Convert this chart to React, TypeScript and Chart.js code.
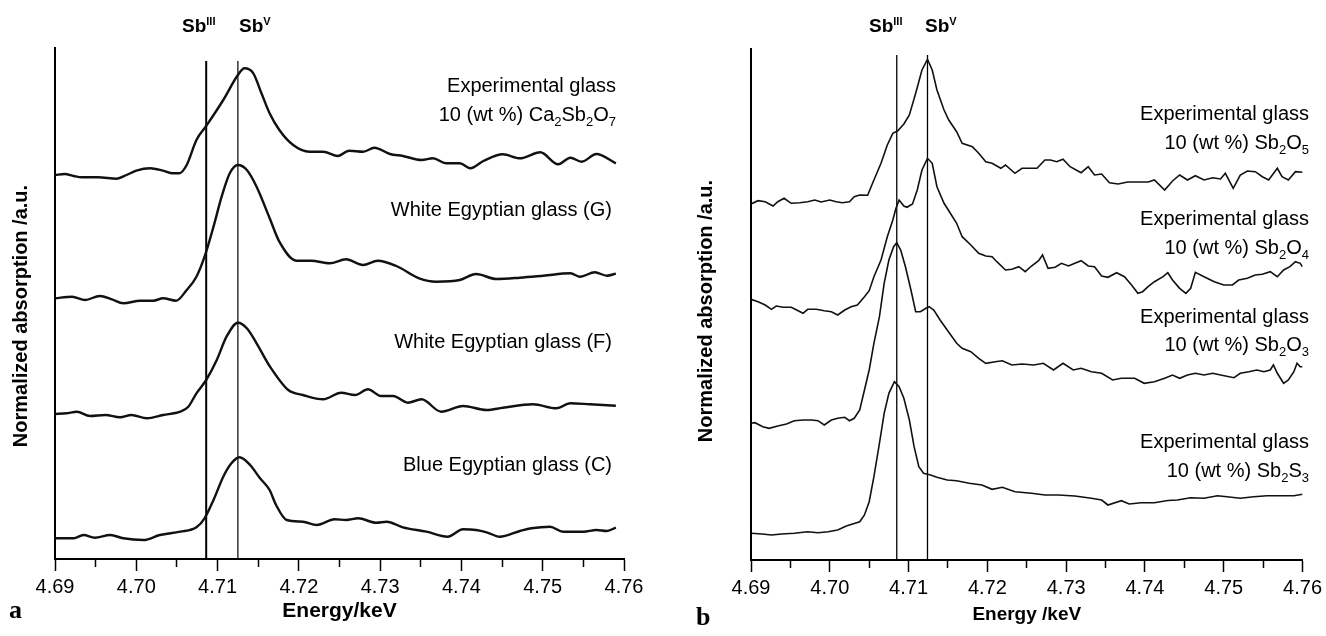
import React, { useEffect, useRef } from "react";
import { Chart, registerables } from "chart.js";
Chart.register(...registerables);

// ---------- axis / tick data ----------
const X_MIN = 4.69;
const X_MAX = 4.76;
const X_TICKS = [4.69, 4.695, 4.7, 4.705, 4.71, 4.715, 4.72, 4.725, 4.73, 4.735, 4.74, 4.745, 4.75, 4.755, 4.76];
const Y_MAX = 5.11;

// reference lines (Sb III / Sb V edge positions, keV)
const SB3_A = 4.7086;
const SB5_A = 4.7125;
const SB3_B = 4.7085;
const SB5_B = 4.7124;
const REF_TOP_A = 4.98;
const REF_TOP_B = 5.05;

// ---------- panel a series ----------
const eA1 = [4.6900, 4.6912, 4.6923, 4.6933, 4.6953, 4.6976, 4.6988, 4.7000, 4.7017, 4.7033, 4.7045, 4.7053, 4.7062, 4.7074, 4.7086, 4.7107, 4.7125, 4.7133, 4.7144, 4.7154, 4.7164, 4.7176, 4.7193, 4.7213, 4.7230, 4.7248, 4.7262, 4.7279, 4.7293, 4.7312, 4.7328, 4.7351, 4.7365, 4.7381, 4.7398, 4.7411, 4.7427, 4.7451, 4.7472, 4.7497, 4.7519, 4.7534, 4.7548, 4.7566, 4.7590];
const yA1 = [3.84, 3.85, 3.83, 3.817, 3.817, 3.803, 3.84, 3.883, 3.907, 3.883, 3.857, 3.857, 3.94, 4.19, 4.33, 4.59, 4.84, 4.907, 4.857, 4.657, 4.457, 4.29, 4.14, 4.073, 4.073, 4.03, 4.083, 4.073, 4.113, 4.05, 4.03, 3.99, 4.007, 3.957, 3.957, 3.907, 3.98, 4.047, 4.007, 4.067, 3.947, 4.013, 3.973, 4.05, 3.957];

const eA2 = [4.6900, 4.6921, 4.6937, 4.6955, 4.6970, 4.6984, 4.7005, 4.7021, 4.7033, 4.7049, 4.7062, 4.7074, 4.7084, 4.7095, 4.7105, 4.7115, 4.7125, 4.7136, 4.7148, 4.7164, 4.7176, 4.7197, 4.7215, 4.7238, 4.7258, 4.7279, 4.7297, 4.7320, 4.7348, 4.7369, 4.7398, 4.7418, 4.7443, 4.7472, 4.7501, 4.7534, 4.7546, 4.7564, 4.7579, 4.7590];
const yA2 = [2.607, 2.623, 2.59, 2.63, 2.597, 2.557, 2.583, 2.583, 2.607, 2.583, 2.69, 2.823, 3.023, 3.323, 3.623, 3.857, 3.94, 3.89, 3.723, 3.41, 3.173, 2.983, 2.983, 2.957, 2.997, 2.94, 2.983, 2.93, 2.807, 2.773, 2.79, 2.85, 2.8, 2.813, 2.833, 2.857, 2.823, 2.867, 2.833, 2.853];

const eA3 = [4.6900, 4.6914, 4.6927, 4.6943, 4.6962, 4.6980, 4.6994, 4.7013, 4.7033, 4.7054, 4.7064, 4.7074, 4.7086, 4.7099, 4.7111, 4.7125, 4.7136, 4.7148, 4.7164, 4.7187, 4.7205, 4.7230, 4.7252, 4.7269, 4.7285, 4.7301, 4.7316, 4.7334, 4.7351, 4.7375, 4.7402, 4.7431, 4.7451, 4.7488, 4.7517, 4.7534, 4.7558, 4.7590];
const yA3 = [1.45, 1.457, 1.473, 1.43, 1.44, 1.417, 1.44, 1.407, 1.44, 1.473, 1.523, 1.657, 1.79, 1.99, 2.223, 2.363, 2.307, 2.157, 1.93, 1.69, 1.64, 1.597, 1.663, 1.64, 1.697, 1.63, 1.63, 1.563, 1.597, 1.473, 1.53, 1.49, 1.513, 1.547, 1.507, 1.557, 1.547, 1.533];

const eA4 = [4.6900, 4.6923, 4.6935, 4.6949, 4.6968, 4.6984, 4.7009, 4.7029, 4.7054, 4.7074, 4.7084, 4.7095, 4.7107, 4.7117, 4.7127, 4.7140, 4.7152, 4.7164, 4.7172, 4.7185, 4.7205, 4.7222, 4.7244, 4.7258, 4.7273, 4.7295, 4.7308, 4.7328, 4.7357, 4.7383, 4.7402, 4.7418, 4.7431, 4.7447, 4.7472, 4.7486, 4.7509, 4.7525, 4.7550, 4.7566, 4.7579, 4.7590];
const yA4 = [0.207, 0.207, 0.24, 0.213, 0.24, 0.207, 0.19, 0.24, 0.273, 0.317, 0.407, 0.59, 0.823, 0.957, 1.017, 0.94, 0.81, 0.69, 0.54, 0.39, 0.373, 0.34, 0.397, 0.39, 0.407, 0.363, 0.373, 0.317, 0.273, 0.223, 0.297, 0.29, 0.267, 0.223, 0.28, 0.307, 0.323, 0.273, 0.273, 0.29, 0.28, 0.313];

// ---------- panel b series ----------
const eB1 = [4.6900, 4.6909, 4.6918, 4.6928, 4.6934, 4.6942, 4.6951, 4.6962, 4.6972, 4.6981, 4.6989, 4.7000, 4.7008, 4.7016, 4.7025, 4.7031, 4.7038, 4.7048, 4.7056, 4.7065, 4.7073, 4.7080, 4.7086, 4.7094, 4.7101, 4.7109, 4.7117, 4.7124, 4.7130, 4.7136, 4.7145, 4.7151, 4.7161, 4.7168, 4.7181, 4.7189, 4.7198, 4.7206, 4.7217, 4.7223, 4.7235, 4.7244, 4.7263, 4.7273, 4.7280, 4.7288, 4.7296, 4.7305, 4.7319, 4.7328, 4.7336, 4.7345, 4.7355, 4.7366, 4.7378, 4.7391, 4.7404, 4.7412, 4.7425, 4.7435, 4.7444, 4.7454, 4.7464, 4.7475, 4.7486, 4.7496, 4.7502, 4.7512, 4.7521, 4.7530, 4.7540, 4.7549, 4.7557, 4.7568, 4.7574, 4.7582, 4.7591, 4.7600];
const yB1 = [3.56, 3.593, 3.583, 3.54, 3.583, 3.617, 3.567, 3.573, 3.583, 3.6, 3.58, 3.6, 3.583, 3.573, 3.583, 3.633, 3.65, 3.647, 3.8, 3.967, 4.15, 4.267, 4.29, 4.36, 4.45, 4.667, 4.9, 5.007, 4.9, 4.7, 4.5, 4.4, 4.283, 4.167, 4.133, 4.067, 3.983, 3.967, 3.917, 3.95, 3.867, 3.917, 3.917, 4.0, 4.0, 3.983, 4.007, 3.933, 3.873, 3.933, 3.85, 3.86, 3.773, 3.76, 3.78, 3.78, 3.78, 3.8, 3.7, 3.79, 3.85, 3.8, 3.843, 3.8, 3.823, 3.81, 3.867, 3.717, 3.85, 3.89, 3.883, 3.833, 3.8, 3.917, 3.833, 3.8, 3.883, 3.877];

const eB2 = [4.6900, 4.6909, 4.6918, 4.6926, 4.6932, 4.6941, 4.6951, 4.6958, 4.6966, 4.6972, 4.6983, 4.6993, 4.7002, 4.7010, 4.7019, 4.7027, 4.7035, 4.7044, 4.7050, 4.7056, 4.7065, 4.7073, 4.7080, 4.7084, 4.7088, 4.7094, 4.7098, 4.7105, 4.7111, 4.7117, 4.7124, 4.7130, 4.7136, 4.7145, 4.7153, 4.7161, 4.7168, 4.7179, 4.7189, 4.7198, 4.7206, 4.7212, 4.7223, 4.7231, 4.7240, 4.7248, 4.7256, 4.7265, 4.7270, 4.7277, 4.7286, 4.7294, 4.7303, 4.7311, 4.7319, 4.7328, 4.7336, 4.7345, 4.7353, 4.7364, 4.7374, 4.7383, 4.7391, 4.7397, 4.7404, 4.7412, 4.7423, 4.7429, 4.7435, 4.7444, 4.7452, 4.7458, 4.7464, 4.7475, 4.7488, 4.7500, 4.7511, 4.7519, 4.7530, 4.7540, 4.7549, 4.7559, 4.7568, 4.7576, 4.7584, 4.7591, 4.7597, 4.7600];
const yB2 = [2.607, 2.583, 2.55, 2.507, 2.54, 2.527, 2.527, 2.5, 2.467, 2.507, 2.507, 2.493, 2.483, 2.45, 2.5, 2.533, 2.55, 2.633, 2.693, 2.833, 3.0, 3.233, 3.4, 3.517, 3.6, 3.54, 3.527, 3.56, 3.7, 3.9, 4.017, 3.967, 3.733, 3.567, 3.467, 3.367, 3.233, 3.15, 3.067, 3.04, 3.033, 2.983, 2.9, 2.907, 2.933, 2.883, 2.94, 2.993, 3.05, 2.917, 2.927, 2.967, 2.94, 2.967, 2.993, 2.94, 2.933, 2.84, 2.827, 2.873, 2.833, 2.75, 2.667, 2.683, 2.733, 2.783, 2.833, 2.873, 2.8, 2.717, 2.667, 2.717, 2.877, 2.833, 2.783, 2.75, 2.75, 2.8, 2.817, 2.85, 2.857, 2.883, 2.833, 2.9, 2.933, 2.983, 2.967, 2.933];

const eB3 = [4.6900, 4.6905, 4.6915, 4.6923, 4.6934, 4.6945, 4.6955, 4.6966, 4.6977, 4.6985, 4.6993, 4.7002, 4.7010, 4.7019, 4.7025, 4.7031, 4.7038, 4.7044, 4.7050, 4.7056, 4.7063, 4.7069, 4.7075, 4.7081, 4.7085, 4.7090, 4.7096, 4.7103, 4.7109, 4.7115, 4.7122, 4.7126, 4.7132, 4.7140, 4.7149, 4.7161, 4.7168, 4.7179, 4.7189, 4.7198, 4.7210, 4.7219, 4.7231, 4.7244, 4.7259, 4.7271, 4.7284, 4.7296, 4.7309, 4.7319, 4.7332, 4.7345, 4.7359, 4.7370, 4.7387, 4.7399, 4.7412, 4.7425, 4.7435, 4.7444, 4.7454, 4.7464, 4.7475, 4.7486, 4.7496, 4.7513, 4.7521, 4.7532, 4.7542, 4.7551, 4.7559, 4.7563, 4.7568, 4.7576, 4.7582, 4.7589, 4.7593, 4.7597, 4.7600];
const yB3 = [1.367, 1.373, 1.333, 1.317, 1.34, 1.36, 1.393, 1.4, 1.4, 1.393, 1.35, 1.4, 1.417, 1.427, 1.393, 1.417, 1.5, 1.7, 1.9, 2.167, 2.433, 2.767, 3.0, 3.133, 3.173, 3.1, 2.933, 2.7, 2.483, 2.483, 2.517, 2.533, 2.5, 2.4, 2.3, 2.167, 2.117, 2.083, 2.017, 1.967, 1.983, 1.993, 1.95, 1.96, 1.95, 1.967, 1.9, 1.967, 1.9, 1.917, 1.883, 1.867, 1.8, 1.817, 1.817, 1.767, 1.783, 1.817, 1.85, 1.817, 1.85, 1.867, 1.85, 1.867, 1.85, 1.823, 1.867, 1.883, 1.9, 1.883, 1.9, 1.95, 1.867, 1.767, 1.8, 1.883, 1.967, 1.933, 1.933];

const eB4 = [4.6900, 4.6914, 4.6926, 4.6939, 4.6955, 4.6972, 4.6985, 4.6998, 4.7010, 4.7021, 4.7029, 4.7038, 4.7044, 4.7050, 4.7056, 4.7063, 4.7069, 4.7075, 4.7082, 4.7088, 4.7094, 4.7101, 4.7107, 4.7113, 4.7119, 4.7128, 4.7136, 4.7149, 4.7161, 4.7177, 4.7193, 4.7206, 4.7219, 4.7235, 4.7256, 4.7273, 4.7290, 4.7311, 4.7332, 4.7345, 4.7353, 4.7370, 4.7380, 4.7395, 4.7412, 4.7429, 4.7441, 4.7458, 4.7475, 4.7492, 4.7504, 4.7521, 4.7538, 4.7555, 4.7572, 4.7589, 4.7600];
const yB4 = [0.267, 0.26, 0.25, 0.26, 0.267, 0.283, 0.273, 0.283, 0.3, 0.34, 0.36, 0.383, 0.45, 0.583, 0.833, 1.167, 1.467, 1.667, 1.783, 1.733, 1.617, 1.4, 1.133, 0.933, 0.867, 0.85, 0.827, 0.8, 0.793, 0.767, 0.75, 0.707, 0.727, 0.683, 0.667, 0.65, 0.65, 0.64, 0.617, 0.6, 0.55, 0.593, 0.56, 0.573, 0.573, 0.595, 0.6, 0.623, 0.617, 0.643, 0.633, 0.617, 0.633, 0.643, 0.643, 0.643, 0.657];

// ---------- text ----------
const FONT = '"Liberation Sans", Arial, Helvetica, sans-serif';
const SERIF = '"Liberation Serif", "Times New Roman", serif';

type Seg = { t: string; k?: "sub" | "sup" };

function rich(ctx: CanvasRenderingContext2D, segs: Seg[], x: number, y: number, align: "left" | "right", size: number, bold = false, smallSize?: number, dSub?: number, dSup?: number) {
  const w = bold ? "bold " : "";
  const big = `${w}${size}px ${FONT}`;
  const ss = smallSize ?? Math.round(size * 0.65);
  const small = `${w}${ss}px ${FONT}`;
  let total = 0;
  for (const s of segs) {
    ctx.font = s.k ? small : big;
    total += ctx.measureText(s.t).width;
  }
  let cx = align === "right" ? x - total : x;
  ctx.textAlign = "left";
  ctx.textBaseline = "alphabetic";
  ctx.fillStyle = "#000";
  for (const s of segs) {
    ctx.font = s.k ? small : big;
    const dy = s.k === "sub" ? (dSub ?? size * 0.28) : s.k === "sup" ? -(dSup ?? size * 0.42) : 0;
    ctx.fillText(s.t, cx, y + dy);
    cx += ctx.measureText(s.t).width;
  }
}

type Label = { segs: Seg[]; x: number; y: number };

const LABELS_A: Label[] = [
  { segs: [{ t: "Experimental glass" }], x: 616, y: 92 },
  { segs: [{ t: "10 (wt %) Ca" }, { t: "2", k: "sub" }, { t: "Sb" }, { t: "2", k: "sub" }, { t: "O" }, { t: "7", k: "sub" }], x: 616, y: 121 },
  { segs: [{ t: "White Egyptian glass (G)" }], x: 612, y: 216 },
  { segs: [{ t: "White Egyptian glass (F)" }], x: 612, y: 348 },
  { segs: [{ t: "Blue Egyptian glass (C)" }], x: 612, y: 471 },
];

const LABELS_B: Label[] = [
  { segs: [{ t: "Experimental glass" }], x: 646, y: 120 },
  { segs: [{ t: "10 (wt %) Sb" }, { t: "2", k: "sub" }, { t: "O" }, { t: "5", k: "sub" }], x: 646, y: 149 },
  { segs: [{ t: "Experimental glass" }], x: 646, y: 225 },
  { segs: [{ t: "10 (wt %) Sb" }, { t: "2", k: "sub" }, { t: "O" }, { t: "4", k: "sub" }], x: 646, y: 254 },
  { segs: [{ t: "Experimental glass" }], x: 646, y: 323 },
  { segs: [{ t: "10 (wt %) Sb" }, { t: "2", k: "sub" }, { t: "O" }, { t: "3", k: "sub" }], x: 646, y: 351 },
  { segs: [{ t: "Experimental glass" }], x: 646, y: 448 },
  { segs: [{ t: "10 (wt %) Sb" }, { t: "2", k: "sub" }, { t: "S" }, { t: "3", k: "sub" }], x: 646, y: 477 },
];

type PanelText = {
  labels: Label[];
  sb3x: number;
  sb5x: number;
  sbY: number;
  yTitleX: number;
  yTitleY: number;
  xTitle: string;
  xTitleSize: number;
  xTitleY: number;
  letter: string;
  letterX: number;
  letterY: number;
};

function makeTextPlugin(p: PanelText) {
  return {
    id: "panelText",
    afterDraw(chart: any) {
      const ctx: CanvasRenderingContext2D = chart.ctx;
      ctx.save();
      for (const l of p.labels) rich(ctx, l.segs, l.x, l.y, "right", 20, false, 13, 5);
      rich(ctx, [{ t: "Sb" }, { t: "III", k: "sup" }], p.sb3x, p.sbY, "left", 19, true, 11, 0, 7);
      rich(ctx, [{ t: "Sb" }, { t: "V", k: "sup" }], p.sb5x, p.sbY, "left", 19, true, 11, 0, 7);
      // y title
      ctx.save();
      ctx.translate(p.yTitleX, p.yTitleY);
      ctx.rotate(-Math.PI / 2);
      ctx.font = `bold 20px ${FONT}`;
      ctx.textAlign = "center";
      ctx.textBaseline = "middle";
      ctx.fillStyle = "#000";
      ctx.fillText("Normalized absorption /a.u.", 0, 0);
      ctx.restore();
      // x title
      const ca = chart.chartArea;
      ctx.font = `bold ${p.xTitleSize}px ${FONT}`;
      ctx.textAlign = "center";
      ctx.textBaseline = "alphabetic";
      ctx.fillStyle = "#000";
      ctx.fillText(p.xTitle, (ca.left + ca.right) / 2, p.xTitleY);
      // panel letter
      ctx.font = `bold 26px ${SERIF}`;
      ctx.textAlign = "left";
      ctx.fillText(p.letter, p.letterX, p.letterY);
      ctx.restore();
    },
  };
}

function pts(xs: number[], ys: number[]) {
  const n = Math.min(xs.length, ys.length);
  const out: { x: number; y: number }[] = [];
  for (let i = 0; i < n; i++) out.push({ x: xs[i], y: ys[i] });
  return out;
}

const isMajor = (v: number) => Math.abs(Math.round(v * 100) - v * 100) < 1e-6;

function makeConfig(opts: {
  series: { x: number[]; y: number[] }[];
  smooth: boolean;
  curveWidth: number;
  refs: { x: number; top: number; w: number }[];
  yAxisWidth: number;
  rightPad: number;
  topPad: number;
  xAxisHeight: number;
  text: PanelText;
}) {
  const datasets: any[] = opts.series.map((s) => ({
    data: pts(s.x, s.y),
    borderColor: "#111",
    borderWidth: opts.curveWidth,
    pointRadius: 0,
    fill: false,
    tension: opts.smooth ? 0.4 : 0,
    cubicInterpolationMode: opts.smooth ? "monotone" : "default",
  }));
  for (const r of opts.refs) {
    datasets.push({
      data: [
        { x: r.x, y: 0 },
        { x: r.x, y: r.top },
      ],
      borderColor: "#000",
      borderWidth: r.w,
      pointRadius: 0,
      fill: false,
      tension: 0,
    });
  }
  return {
    type: "line",
    data: { datasets },
    options: {
      animation: false,
      responsive: false,
      maintainAspectRatio: false,
      devicePixelRatio: 1,
      parsing: true,
      layout: { padding: { left: 0, right: opts.rightPad, top: opts.topPad, bottom: 0 } },
      plugins: { legend: { display: false }, tooltip: { enabled: false } },
      elements: { point: { radius: 0 } },
      scales: {
        x: {
          type: "linear",
          min: X_MIN,
          max: X_MAX,
          afterFit: (s: any) => {
            s.height = opts.xAxisHeight;
          },
          afterBuildTicks: (s: any) => {
            s.ticks = X_TICKS.map((v) => ({ value: v }));
          },
          ticks: {
            autoSkip: false,
            maxRotation: 0,
            minRotation: 0,
            padding: 4,
            color: "#000",
            font: { family: FONT, size: 20 },
            callback: (v: any) => (isMajor(Number(v)) ? Number(v).toFixed(2) : ""),
          },
          grid: {
            display: true,
            drawOnChartArea: false,
            drawTicks: true,
            tickLength: 12,
            tickColor: "#000",
            tickWidth: 1.5,
            tickBorderDash: (c: any) => (c.tick && isMajor(c.tick.value) ? [] : [7, 40]),
          },
          border: { display: true, color: "#000", width: 2 },
        },
        y: {
          type: "linear",
          min: 0,
          max: Y_MAX,
          afterFit: (s: any) => {
            s.width = opts.yAxisWidth;
          },
          ticks: { display: false },
          grid: { display: false },
          border: { display: true, color: "#000", width: 2 },
        },
      },
    },
    plugins: [makeTextPlugin(opts.text)],
  };
}

export default function App() {
  const refA = useRef<HTMLCanvasElement>(null);
  const refB = useRef<HTMLCanvasElement>(null);

  useEffect(() => {
    const cfgA = makeConfig({
      series: [
        { x: eA1, y: yA1 },
        { x: eA2, y: yA2 },
        { x: eA3, y: yA3 },
        { x: eA4, y: yA4 },
      ],
      smooth: true,
      curveWidth: 2.4,
      refs: [
        { x: SB3_A, top: REF_TOP_A, w: 2 },
        { x: SB5_A, top: REF_TOP_A, w: 1.2 },
      ],
      yAxisWidth: 55,
      rightPad: 39,
      topPad: 48,
      xAxisHeight: 77,
      text: {
        labels: LABELS_A,
        sb3x: 182,
        sb5x: 239,
        sbY: 32,
        yTitleX: 21,
        yTitleY: 316,
        xTitle: "Energy/keV",
        xTitleSize: 21,
        xTitleY: 617,
        letter: "a",
        letterX: 9,
        letterY: 618,
      },
    });
    const cfgB = makeConfig({
      series: [
        { x: eB1, y: yB1 },
        { x: eB2, y: yB2 },
        { x: eB3, y: yB3 },
        { x: eB4, y: yB4 },
      ],
      smooth: false,
      curveWidth: 1.6,
      refs: [
        { x: SB3_B, top: REF_TOP_B, w: 1.3 },
        { x: SB5_B, top: REF_TOP_B, w: 1.3 },
      ],
      yAxisWidth: 88,
      rightPad: 20,
      topPad: 49,
      xAxisHeight: 76,
      text: {
        labels: LABELS_B,
        sb3x: 206,
        sb5x: 262,
        sbY: 32,
        yTitleX: 43,
        yTitleY: 311,
        xTitle: "Energy /keV",
        xTitleSize: 19,
        xTitleY: 620,
        letter: "b",
        letterX: 33,
        letterY: 625,
      },
    });
    const a = new Chart(refA.current as HTMLCanvasElement, cfgA as any);
    const b = new Chart(refB.current as HTMLCanvasElement, cfgB as any);
    return () => {
      a.destroy();
      b.destroy();
    };
  }, []);

  return (
    <div style={{ position: "fixed", left: 0, top: 0, width: 1326, height: 636, background: "#fff" }}>
      <canvas ref={refA} width={663} height={636} style={{ position: "absolute", left: 0, top: 0, width: 663, height: 636 }} />
      <canvas ref={refB} width={663} height={636} style={{ position: "absolute", left: 663, top: 0, width: 663, height: 636 }} />
    </div>
  );
}
